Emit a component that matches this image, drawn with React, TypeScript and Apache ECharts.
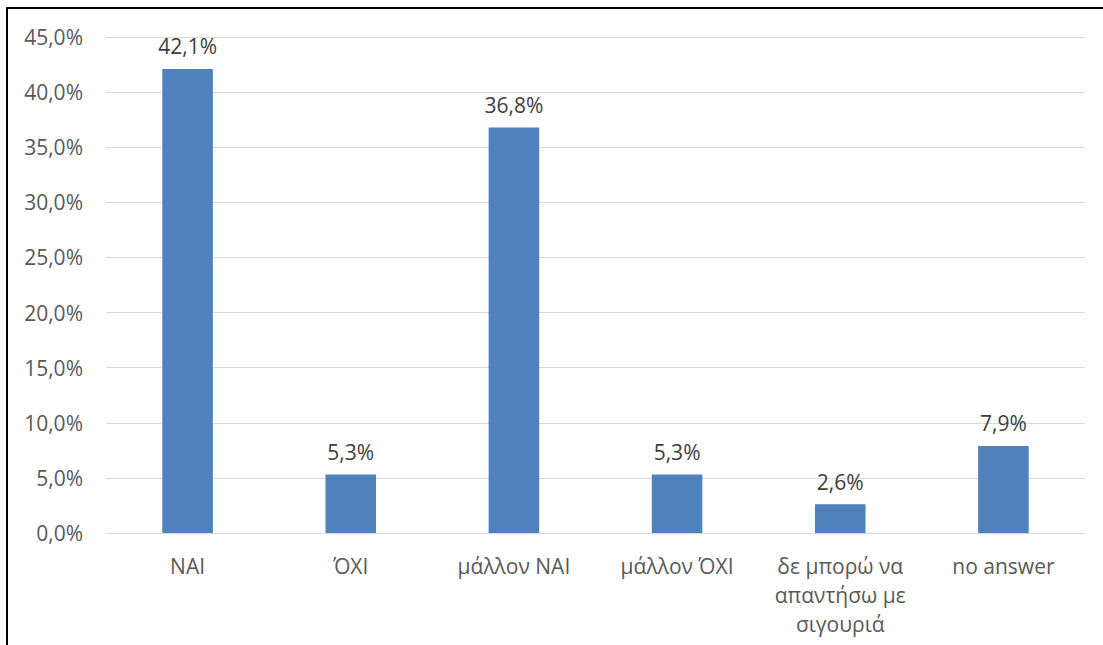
import React, { useEffect, useRef } from "react";
import * as echarts from "echarts";

const categories = ["NAI", "ΌΧΙ", "μάλλον NAI", "μάλλον ΌΧΙ", "δε μπορώ να\nαπαντήσω με\nσιγουριά", "no answer"];
const values = [42.1, 5.3, 36.8, 5.3, 2.6, 7.9];
const yMin = 0;
const yMax = 45;
const yStep = 5;

const fmt = (v: number) => `${v.toFixed(1).replace(".", ",")}%`;
const FONT = "'Open Sans', 'Noto Sans', sans-serif";

export default function App() {
  const ref = useRef<HTMLDivElement>(null);
  useEffect(() => {
    if (!ref.current) return;
    const chart = echarts.init(ref.current, undefined, { renderer: "svg" });
    chart.setOption({
      animation: false,
      backgroundColor: "#ffffff",
      grid: { left: 106, right: 18, top: 37, bottom: 112, containLabel: false },
      xAxis: {
        type: "category",
        data: categories,
        axisLine: { show: true, lineStyle: { color: "#d9d9d9", width: 1 } },
        axisTick: { show: false },
        axisLabel: {
          color: "#595959",
          fontFamily: FONT,
          fontSize: 21,
          lineHeight: 29,
          margin: 18,
          interval: 0,
        },
      },
      yAxis: {
        type: "value",
        min: yMin,
        max: yMax,
        interval: yStep,
        axisLine: { show: false },
        axisTick: { show: false },
        splitLine: { lineStyle: { color: "#d9d9d9", width: 1 } },
        axisLabel: {
          color: "#595959",
          fontFamily: FONT,
          fontSize: 21,
          margin: 23,
          formatter: (v: number) => fmt(v),
        },
      },
      series: [
        {
          type: "bar",
          data: values,
          barWidth: "31%",
          itemStyle: { color: "#4f81bd" },
          label: {
            show: true,
            position: "top",
            distance: 12,
            color: "#404040",
            fontFamily: FONT,
            fontSize: 21,
            formatter: (p: any) => fmt(p.value),
          },
        },
      ],
    });
    return () => chart.dispose();
  }, []);
  return (
    <div style={{ position: "fixed", left: 0, top: 0, width: 1103, height: 645, background: "#fff" }}>
      <div ref={ref} style={{ position: "absolute", left: 0, top: 0, width: 1103, height: 645 }} />
      <div
        style={{
          position: "absolute",
          left: 6,
          top: 7,
          width: 1097,
          height: 638,
          borderLeft: "2px solid #000",
          borderTop: "2px solid #000",
          pointerEvents: "none",
        }}
      />
    </div>
  );
}
